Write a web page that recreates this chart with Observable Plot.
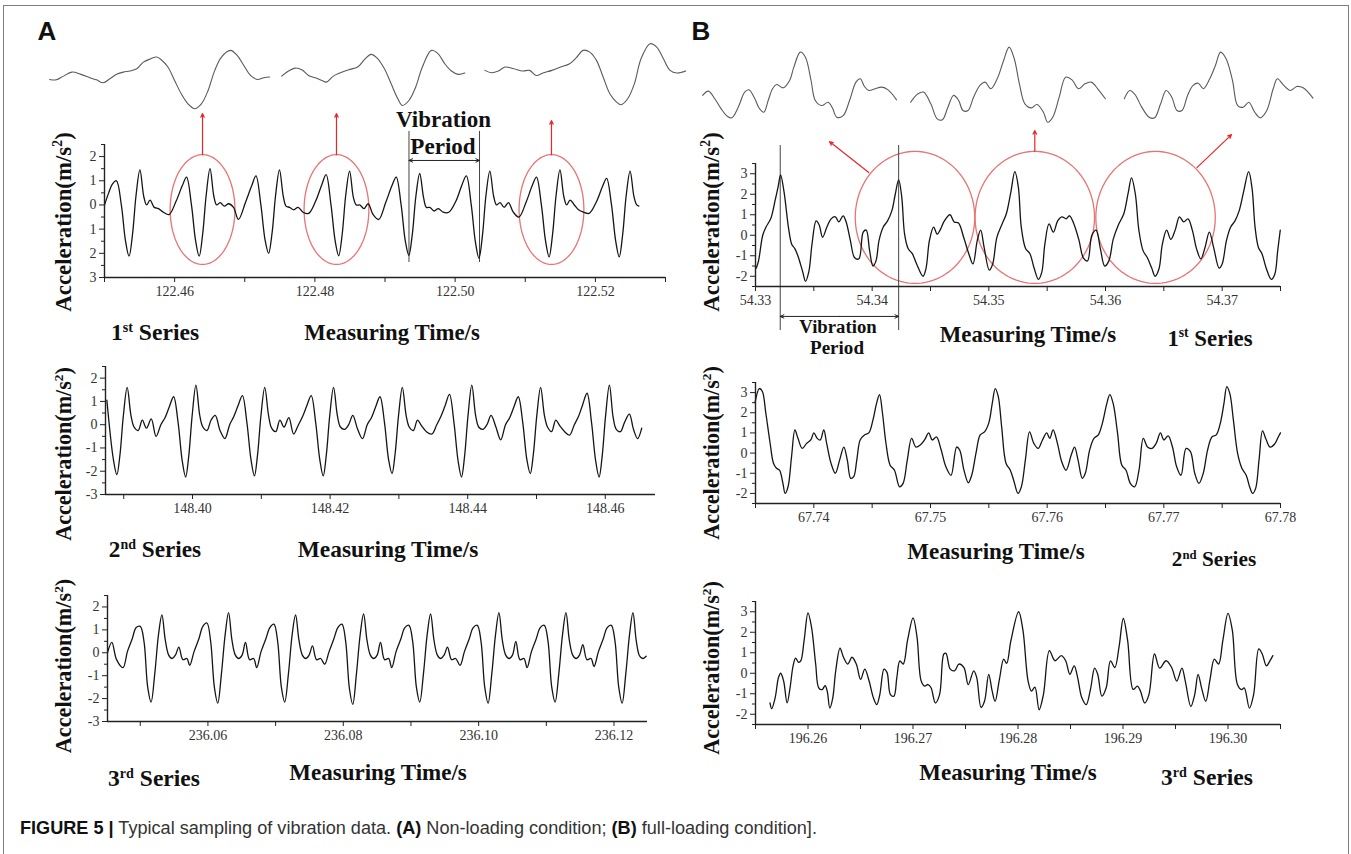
<!DOCTYPE html>
<html><head><meta charset="utf-8">
<script src="https://cdn.jsdelivr.net/npm/d3@7"></script>
<script src="https://cdn.jsdelivr.net/npm/@observablehq/plot@0.6"></script>
<style>
body{margin:0;background:#fff;}
#fig{position:relative;width:1351px;height:854px;overflow:hidden;background:#fff;}
#fig svg g[aria-label*="tick label"]{font-size:14px;font-family:"Liberation Serif","Times New Roman",serif;}
.lbl{position:absolute;white-space:nowrap;line-height:1;color:#111;}
.serif{font-family:"Liberation Serif","Times New Roman",serif;font-weight:bold;}
.sans{font-family:"Liberation Sans",Arial,sans-serif;}
.bold{font-weight:bold;}
.lbl sup{font-size:0.6em;vertical-align:0.6em;line-height:0;}
</style></head><body><div id="fig"></div>
<script>
// ---------- data: [ms from origin, acceleration m/s^2] ----------
const a1Origin = 122.45;
const a1 = [[0,0],[0.6,0.5],[1.1,0.85],[1.7,1.0],[2.4,0.0],[3.0,-1.5],[3.5,-2.12],[4.0,-1.2],[4.5,0.4],[5.05,1.45],[5.6,0.35],[6.0,0.0],[6.5,0.2],[7.1,-0.1],[7.7,-0.15],[8.4,-0.3],
[9.2,-0.4],[10.2,0.15],[11.1,0.8],[11.7,1.15],[12.4,0.0],[13.0,-1.5],[13.5,-2.12],[14.0,-1.2],[14.5,0.4],[15.05,1.5],[15.6,0.35],[16.0,0.0],[16.5,0.1],[17.1,-0.05],[17.7,0.05],[18.4,-0.1],
[19.1,-0.6],[20.1,0.1],[21.0,0.8],[21.6,1.2],[22.3,0.0],[22.9,-1.45],[23.4,-2.0],[23.9,-1.15],[24.4,0.4],[24.95,1.45],[25.5,0.35],[25.9,-0.05],[26.4,-0.1],[27.0,-0.2],[27.6,-0.1],[28.3,-0.3],
[29.1,-0.35],[30.1,0.15],[31.0,0.85],[31.6,1.25],[32.3,0.0],[32.9,-1.5],[33.4,-2.1],[33.9,-1.2],[34.4,0.4],[34.95,1.4],[35.5,0.3],[35.9,0.0],[36.4,0.0],[37.0,-0.15],[37.6,0.05],[38.3,-0.4],
[39.1,-0.6],[40.1,0.1],[41.0,0.8],[41.6,1.15],[42.3,0.0],[42.9,-1.5],[43.4,-2.08],[43.9,-1.2],[44.4,0.35],[44.95,1.3],[45.5,0.3],[45.9,-0.1],[46.4,-0.1],[47.0,-0.25],[47.6,-0.15],[48.3,-0.3],
[49.1,-0.3],[50.1,0.15],[51.0,0.85],[51.6,1.2],[52.3,0.0],[52.9,-1.55],[53.4,-2.2],[53.9,-1.25],[54.4,0.4],[54.95,1.4],[55.5,0.35],[55.9,0.0],[56.4,0.1],[57.0,-0.1],[57.6,0.1],[58.3,-0.3],
[59.1,-0.5],[60.1,0.1],[61.0,0.8],[61.6,1.15],[62.3,0.0],[62.9,-1.5],[63.4,-2.15],[63.9,-1.2],[64.4,0.4],[64.95,1.45],[65.5,0.35],[65.9,0.0],[66.4,0.2],[67.0,0.0],[67.6,-0.2],[68.3,-0.3],
[69.1,-0.35],[70.1,0.1],[71.0,0.75],[71.6,1.1],[72.3,0.0],[72.9,-1.5],[73.4,-2.15],[73.9,-1.2],[74.4,0.4],[74.95,1.4],[75.5,0.35],[75.9,0.0],[76.2,-0.05]];

const a2Origin = 148.38;
const a2 = [[7.55,1.05],[8.5,-1.5],[9.0,-2.15],[9.45,-1.3],[9.95,0.4],[10.5,1.6],[11.05,0.4],[11.5,-0.1],[12.1,-0.25],[12.7,0.2],[13.3,-0.15],[14.0,0.25],
[14.7,-0.5],[15.4,0.0],[16.0,0.3],[16.6,0.75],[17.25,1.2],[17.9,0.1],[18.5,-1.55],[19.0,-2.25],[19.45,-1.35],[19.95,0.4],[20.5,1.7],[21.05,0.4],[21.5,-0.1],[22.1,-0.25],[22.7,0.2],[23.3,0.4],[24.0,-0.25],
[24.7,-0.6],[25.4,0.0],[26.0,0.35],[26.6,0.8],[27.25,1.25],[27.9,0.1],[28.5,-1.5],[29.0,-2.2],[29.45,-1.3],[29.95,0.4],[30.5,1.6],[31.05,0.4],[31.5,-0.15],[32.1,-0.3],[32.7,0.2],[33.3,-0.1],[34.0,0.3],
[34.7,-0.4],[35.4,0.0],[36.0,0.35],[36.6,0.8],[37.25,1.25],[37.9,0.1],[38.5,-1.5],[39.0,-2.2],[39.45,-1.3],[39.95,0.4],[40.5,1.6],[41.05,0.4],[41.5,-0.1],[42.1,-0.2],[42.7,0.0],[43.3,0.4],[44.0,-0.2],
[44.7,-0.6],[45.4,0.0],[46.0,0.3],[46.6,0.75],[47.25,1.2],[47.9,0.1],[48.5,-1.5],[49.0,-2.1],[49.45,-1.25],[49.95,0.4],[50.5,1.6],[51.05,0.4],[51.5,-0.1],[52.1,-0.25],[52.7,0.2],[53.3,-0.05],[54.0,-0.3],
[54.8,-0.4],[55.5,0.0],[56.1,0.35],[56.7,0.8],[57.35,1.3],[58.0,0.1],[58.6,-1.55],[59.1,-2.25],[59.55,-1.35],[60.05,0.4],[60.6,1.7],[61.15,0.4],[61.6,-0.1],[62.2,-0.2],[62.8,0.0],[63.4,0.4],[64.1,-0.1],
[64.8,-0.65],[65.5,0.0],[66.1,0.3],[66.7,0.75],[67.35,1.2],[68.0,0.1],[68.6,-1.5],[69.1,-2.1],[69.55,-1.25],[70.05,0.4],[70.6,1.6],[71.15,0.4],[71.6,-0.1],[72.2,-0.3],[72.8,0.2],[73.4,-0.05],[74.1,-0.3],
[74.8,-0.45],[75.5,0.0],[76.1,0.35],[76.7,0.85],[77.35,1.35],[78.0,0.1],[78.6,-1.55],[79.1,-2.25],[79.55,-1.35],[80.05,0.4],[80.6,1.7],[81.15,0.3],[81.6,-0.2],[82.2,-0.3],[82.8,0.1],[83.5,0.45],[84.1,-0.2],[84.7,-0.6],[85.3,-0.15]];

const a3Origin = 236.04;
const a3 = [[5.16,0.0],[5.8,0.45],[6.5,-0.3],
[7.45,-0.65],[8.1,0.05],[8.8,0.6],[9.4,1.1],[10.0,1.15],[10.55,0.5],[11.1,-1.5],[11.6,-2.15],[12.15,-0.9],[12.7,0.8],[13.2,1.65],[13.7,0.55],[14.2,-0.1],[14.7,-0.25],[15.2,-0.1],[15.7,0.25],[16.3,-0.3],[16.9,-0.25],
[17.3,-0.55],[17.95,0.05],[18.65,0.6],[19.25,1.15],[19.85,1.3],[20.4,0.5],[20.95,-1.5],[21.45,-2.2],[22.0,-0.9],[22.55,0.8],[23.05,1.75],[23.55,0.55],[24.05,-0.1],[24.55,-0.25],[25.05,-0.1],[25.55,0.45],[26.15,-0.3],[26.75,-0.25],
[27.2,-0.65],[27.85,0.05],[28.55,0.6],[29.15,1.1],[29.75,1.25],[30.3,0.5],[30.85,-1.5],[31.35,-2.15],[31.9,-0.9],[32.45,0.8],[32.95,1.65],[33.45,0.55],[33.95,-0.1],[34.45,-0.25],[34.95,-0.1],[35.45,0.3],[36.05,-0.3],[36.65,-0.25],
[37.25,-0.5],[37.9,0.05],[38.6,0.6],[39.2,1.1],[39.8,1.25],[40.35,0.5],[40.9,-1.55],[41.4,-2.25],[41.95,-0.9],[42.5,0.8],[43.0,1.7],[43.5,0.55],[44.0,-0.1],[44.5,-0.25],[45.0,-0.1],[45.5,0.45],[46.1,-0.3],[46.7,-0.25],
[47.15,-0.65],[47.8,0.05],[48.5,0.6],[49.1,1.1],[49.7,1.2],[50.25,0.5],[50.8,-1.5],[51.3,-2.15],[51.85,-0.9],[52.4,0.8],[52.9,1.7],[53.4,0.55],[53.9,-0.1],[54.4,-0.25],[54.9,-0.1],[55.4,0.25],[56.0,-0.3],[56.6,-0.25],
[57.25,-0.55],[57.9,0.05],[58.6,0.6],[59.2,1.1],[59.8,1.2],[60.35,0.5],[60.9,-1.5],[61.4,-2.2],[61.95,-0.9],[62.5,0.8],[63.0,1.75],[63.5,0.55],[64.0,-0.1],[64.5,-0.25],[65.0,-0.1],[65.5,0.5],[66.1,-0.3],[66.7,-0.25],
[67.15,-0.65],[67.8,0.05],[68.5,0.6],[69.1,1.1],[69.7,1.2],[70.25,0.5],[70.8,-1.5],[71.3,-2.15],[71.85,-0.9],[72.4,0.8],[72.9,1.75],[73.4,0.55],[73.9,-0.1],[74.4,-0.25],[74.9,-0.1],[75.4,0.35],[76.0,-0.3],[76.6,-0.25],
[77.05,-0.6],[77.7,0.05],[78.4,0.6],[79.0,1.1],[79.6,1.2],[80.15,0.5],[80.7,-1.5],[81.2,-2.2],[81.75,-0.9],[82.3,0.8],[82.8,1.75],[83.3,0.5],[83.8,-0.15],[84.3,-0.25],[84.75,-0.15]];

const b1Origin = 54.33;
const b1 = [[0.07,-1.6],[0.26,-1.25],[0.62,0.0],[0.9,0.4],[1.3,0.8],[1.7,1.75],[1.95,2.4],[2.15,2.95],[2.45,2.1],[2.82,0.4],[3.11,-0.45],[3.37,-0.65],[3.63,-1.0],[4.03,-1.75],[4.29,-2.25],[4.58,-1.75],[4.84,-0.45],[5.2,0.7],[5.46,0.5],[5.75,-0.1],[6.12,0.4],[6.48,0.8],[6.85,0.9],[7.14,0.65],[7.51,0.95],[7.77,0.65],[8.13,-0.25],[8.5,-1.1],[8.86,-1.15],[9.23,0.15],[9.49,0.25],[9.78,-0.75],[10.07,-1.5],[10.33,-1.25],[10.59,-0.25],[10.95,0.4],[11.32,0.7],[11.69,1.2],[11.98,2.0],[12.27,2.7],[12.53,1.9],[12.78,0.05],[13.08,-0.65],[13.44,-0.9],[13.81,-1.4],[14.36,-2.0],[14.62,-1.6],[14.91,-0.25],[15.27,0.4],[15.57,0.05],[15.82,0.25],[16.19,0.7],[16.67,1.0],[17.03,0.65],[17.4,0.6],[17.84,-0.1],[18.28,-0.9],[18.64,-1.4],[19.01,-0.25],[19.3,0.25],[19.6,-0.6],[20.04,-1.7],[20.33,-1.4],[20.69,-0.1],[21.14,0.55],[21.5,1.05],[21.87,2.05],[22.23,3.1],[22.53,2.35],[22.78,0.4],[23.15,-0.65],[23.52,-0.9],[23.88,-1.6],[24.25,-2.15],[24.54,-1.8],[24.8,-0.45],[25.16,0.55],[25.53,0.15],[25.9,0.7],[26.26,0.9],[26.63,0.8],[26.92,0.95],[27.29,0.55],[27.73,-0.25],[28.1,-1.1],[28.46,-1.25],[28.83,0.0],[29.19,0.25],[29.56,-0.65],[29.93,-1.5],[30.29,-1.25],[30.66,-0.2],[31.1,0.5],[31.57,1.05],[31.94,2.05],[32.23,2.8],[32.56,2.0],[32.86,0.25],[33.22,-0.75],[33.59,-1.1],[33.96,-1.6],[34.25,-2.0],[34.58,-1.65],[34.87,-0.45],[35.24,0.25],[35.6,-0.2],[35.97,0.25],[36.34,0.9],[36.7,0.65],[37.07,0.8],[37.44,0.25],[37.8,-0.65],[38.17,-1.15],[38.53,-0.6],[38.9,0.15],[39.27,-0.6],[39.74,-1.6],[40.0,-1.4],[40.37,-0.25],[40.73,0.4],[41.1,0.7],[41.46,1.2],[41.83,2.1],[42.27,3.1],[42.56,2.3],[42.82,0.4],[43.11,-0.6],[43.41,-0.9],[43.77,-1.6],[44.21,-2.15],[44.51,-1.9],[44.76,-0.75],[44.98,0.25]];

const b2Origin = 67.73;
const b2 = [[4.96,2.5],[5.33,3.2],[5.59,3.05],[5.88,2.0],[6.25,0.5],[6.54,-0.5],[6.8,-0.75],[7.06,-0.85],[7.35,-1.5],[7.54,-2.0],[7.79,-1.67],[8.09,-0.18],[8.38,1.15],[8.64,0.73],[9.01,0.23],[9.38,0.48],[9.74,0.65],[10.0,1.0],[10.29,0.73],[10.55,0.65],[10.85,1.15],[11.1,0.48],[11.47,-0.5],[11.84,-1.0],[12.21,-0.35],[12.57,0.3],[12.87,-0.35],[13.16,-1.25],[13.42,-1.17],[13.68,-0.35],[13.97,0.65],[14.34,0.9],[14.71,1.0],[15.07,1.65],[15.37,2.45],[15.63,2.9],[15.88,2.0],[16.18,0.5],[16.54,-0.6],[16.91,-0.85],[17.35,-1.67],[17.65,-1.5],[18.01,-0.35],[18.38,0.73],[18.75,0.3],[19.12,0.4],[19.49,0.65],[19.85,1.0],[20.15,0.65],[20.51,0.8],[20.88,0.23],[21.32,-0.68],[21.76,-1.1],[22.24,0.3],[22.5,0.15],[22.87,-0.85],[23.24,-1.47],[23.53,-1.1],[23.9,0.0],[24.26,0.9],[24.63,1.05],[25.0,1.5],[25.29,2.45],[25.55,3.2],[25.81,2.8],[26.1,1.3],[26.47,-0.5],[26.84,-0.85],[27.13,-1.35],[27.5,-2.0],[27.79,-1.67],[28.13,-0.35],[28.49,1.05],[28.86,0.48],[29.23,0.23],[29.6,0.65],[29.96,1.0],[30.22,0.73],[30.51,1.15],[30.88,0.48],[31.25,-0.43],[31.62,-0.85],[32.06,-0.1],[32.35,0.3],[32.65,-0.35],[33.01,-1.25],[33.27,-1.0],[33.64,0.15],[34.01,0.73],[34.38,0.9],[34.74,1.5],[35.11,2.45],[35.37,2.9],[35.66,2.45],[36.03,1.0],[36.4,-0.6],[36.76,-0.85],[37.13,-1.5],[37.5,-1.67],[37.87,-0.85],[38.24,0.73],[38.6,0.3],[38.97,0.23],[39.34,0.48],[39.71,1.0],[40.0,0.65],[40.37,0.85],[40.74,0.3],[41.1,-0.68],[41.47,-1.1],[41.91,0.23],[42.28,0.07],[42.65,-1.0],[43.01,-1.5],[43.38,-1.0],[43.75,0.15],[44.12,0.8],[44.49,0.9],[44.85,1.5],[45.15,2.45],[45.4,3.3],[45.66,2.95],[45.96,1.65],[46.32,0.0],[46.69,-0.75],[47.06,-1.1],[47.35,-1.67],[47.61,-2.0],[47.87,-1.75],[48.16,-0.35],[48.46,1.1],[48.75,0.7],[49.1,0.3],[49.5,0.45],[49.85,0.85],[50.0,1.0]];

const b3Origin = 196.25;
const b3 = [[6.38,-1.45],[6.54,-1.73],[6.87,-1.2],[7.19,-0.21],[7.4,0.0],[7.68,-0.38],[8.01,-1.45],[8.29,-0.71],[8.58,0.36],[8.82,0.74],[9.1,0.53],[9.31,0.6],[9.63,1.6],[10.0,2.95],[10.33,2.26],[10.73,0.45],[11.02,-0.71],[11.34,-0.8],[11.63,-0.6],[11.83,-0.87],[12.08,-1.7],[12.36,-1.2],[12.64,0.12],[13.05,1.22],[13.38,0.78],[13.78,0.45],[14.19,0.78],[14.6,0.45],[15.01,-0.3],[15.41,0.2],[15.82,-0.38],[16.23,-1.2],[16.55,-1.53],[16.84,-1.04],[17.24,0.2],[17.53,0.03],[17.85,-1.04],[18.18,-1.12],[18.46,-0.21],[18.75,0.6],[19.07,0.45],[19.48,1.6],[20.01,2.7],[20.38,1.77],[20.78,-0.38],[21.11,-0.63],[21.43,-0.55],[21.72,-0.71],[22.13,-1.45],[22.53,-1.04],[22.94,0.94],[23.14,0.97],[23.55,0.2],[23.96,0.12],[24.37,0.45],[24.85,0.28],[25.26,-0.55],[25.79,0.12],[26.07,-0.21],[26.48,-1.67],[26.81,-1.37],[27.21,-0.05],[27.54,-0.87],[27.82,-1.37],[28.23,-0.3],[28.64,0.69],[28.92,0.48],[29.33,1.6],[30.06,3.0],[30.47,2.1],[30.96,-0.38],[31.28,-0.87],[31.61,-0.68],[32.01,-1.78],[32.42,-1.04],[32.99,1.1],[33.52,0.61],[34.13,0.86],[34.54,0.61],[34.94,-0.05],[35.35,0.36],[35.68,-0.21],[36.08,-1.2],[36.49,-1.53],[36.9,-0.79],[37.3,0.25],[37.59,-0.05],[37.99,-1.12],[38.4,-0.71],[38.81,0.6],[39.22,0.28],[39.62,1.27],[40.03,2.67],[40.44,1.6],[40.97,-0.79],[41.37,-0.63],[41.66,-0.87],[42.07,-1.45],[42.47,-1.04],[43.0,0.94],[43.49,0.25],[44.1,0.61],[44.63,0.28],[45.12,-0.38],[45.61,0.25],[45.93,-0.38],[46.46,-1.62],[46.83,-1.04],[47.15,-0.05],[47.48,-0.71],[47.88,-1.37],[48.29,-0.3],[48.7,0.69],[49.1,0.45],[49.51,1.6],[50.0,2.92],[50.41,2.1],[50.9,-0.55],[51.3,-0.8],[51.55,-0.71],[52.04,-1.7],[52.44,-1.04],[52.93,1.19],[53.26,0.94],[53.66,0.36],[53.99,0.6],[54.27,0.86]];

// magnified insets (relative units: position, amplitude)
const aIn1 = [[3.67,-0.05],[4.17,-0.08],[4.67,0.18],[5.33,0.5],[6.0,0.33],[6.67,0.08],[7.17,-0.08],[7.67,-0.3],[8.17,0.0],[8.67,0.33],[9.17,0.5],[9.67,0.58],[10.17,0.75],[10.67,1.25],[11.17,1.48],[11.67,1.63],[12.0,1.43],[12.5,0.88],[13.0,-0.13],[13.5,-1.13],[14.0,-1.88],[14.5,-2.25],[15.0,-1.88],[15.5,-0.88],[16.0,0.63],[16.5,1.63],[17.17,2.13],[17.67,1.75],[18.17,1.0],[18.67,0.25],[19.17,-0.05],[19.67,0.08],[20.1,0.13]];
const aIn2 = [[21.0,0.2],[21.5,0.58],[22.0,0.8],[22.5,0.68],[23.0,0.25],[23.5,0.08],[24.0,-0.13],[24.33,-0.25],[24.83,0.18],[25.33,0.43],[26.0,0.68],[26.67,0.88],[27.17,1.43],[27.67,1.83],[28.17,1.5],[28.67,0.75],[29.17,-0.38],[29.67,-1.5],[30.0,-2.0],[30.5,-1.63],[31.0,-0.63],[31.5,0.88],[32.17,2.13],[32.67,1.88],[33.17,1.13],[33.67,0.58],[34.17,0.33],[34.67,0.43]];
const aIn3 = [[36.17,0.63],[36.67,0.45],[37.17,0.58],[37.67,0.88],[38.33,0.75],[39.0,0.58],[39.5,0.63],[40.0,0.25],[40.5,0.43],[41.17,0.63],[41.83,0.88],[42.5,1.13],[43.0,1.58],[43.5,2.13],[44.0,2.0],[44.5,1.38],[45.0,0.13],[45.5,-1.13],[46.0,-1.75],[46.33,-1.95],[46.83,-1.5],[47.33,-0.38],[47.83,1.5],[48.5,2.63],[49.0,2.38],[49.5,1.5],[50.0,0.63],[50.5,0.43],[51.17,0.58]];
const bIn1 = [[1.73,0.38],[2.17,0.7],[2.67,0.13],[3.17,-0.63],[3.67,-1.2],[4.0,-1.3],[4.5,-0.5],[5.0,0.63],[5.33,0.8],[5.73,0.25],[6.17,-0.63],[6.5,-0.88],[6.83,0.0],[7.17,0.88],[7.5,1.2],[8.0,0.95],[8.5,1.5],[8.83,2.5],[9.33,3.63],[9.73,3.25],[10.17,1.5],[10.5,0.0],[11.0,-0.38],[11.5,-0.13],[11.83,-0.55],[12.17,-1.25],[12.67,-1.13],[13.17,0.0],[13.67,1.38],[14.0,1.63],[14.33,1.05],[14.67,0.75],[15.17,0.88],[15.67,1.0],[16.17,0.8],[16.83,0.05]];
const bIn2 = [[17.93,-0.13],[18.5,0.5],[18.93,0.63],[19.5,-0.25],[20.0,-1.38],[20.4,-1.45],[20.83,-0.5],[21.27,0.38],[21.67,0.0],[22.0,-0.75],[22.4,-0.75],[22.83,0.25],[23.33,1.13],[23.73,1.38],[24.17,0.88],[24.67,1.63],[25.17,3.0],[25.6,4.0],[26.0,3.13],[26.4,1.25],[26.83,-0.25],[27.33,-0.55],[27.77,-0.3],[28.27,-0.88],[28.6,-1.63],[29.0,-1.25],[29.5,0.25],[30.0,1.75],[30.5,1.55],[31.0,0.88],[31.5,1.25],[32.0,1.38],[32.5,0.88],[33.1,0.13]];
const bIn3 = [[34.57,0.13],[35.0,0.75],[35.4,0.45],[35.93,-0.5],[36.5,-1.25],[36.93,-1.3],[37.4,-0.25],[37.83,0.75],[38.27,0.25],[38.67,-0.75],[39.07,-0.75],[39.5,0.38],[39.93,1.13],[40.33,1.3],[40.73,0.88],[41.23,1.63],[41.67,2.63],[42.07,3.63],[42.5,3.13],[43.0,1.5],[43.4,-0.38],[43.83,-0.5],[44.27,-0.13],[44.73,-0.88],[45.17,-1.3],[45.67,-0.75],[46.17,0.88],[46.5,1.63],[47.0,1.13],[47.5,0.75],[48.0,1.05],[48.5,0.95],[49.27,0.18]];

// annotations
const a1Circles = [{t:122.46398,v:-0.19,rt:0.00462,rv:2.27},{t:122.48308,v:-0.19,rt:0.00462,rv:2.27},{t:122.51374,v:-0.19,rt:0.00462,rv:2.27}];
const a1Arrows = [{t1:122.46398,v1:2.08,t2:122.46398,v2:3.78},{t1:122.48308,v1:2.08,t2:122.48308,v2:3.78},{t1:122.51374,v1:2.08,t2:122.51374,v2:3.49}];
const a1Period = {t1:122.49342,t2:122.50348,v1:-2.38,v2:3.04,arrowV:1.84};
const b1Circles = [{t:54.34367,v:0.87,rt:0.00512,rv:3.22},{t:54.35394,v:0.87,rt:0.00512,rv:3.22},{t:54.36429,v:0.87,rt:0.00512,rv:3.22}];
const b1Arrows = [{t1:54.33971,v1:3.06,t2:54.33634,v2:4.57},{t1:54.35394,v1:4.09,t2:54.35394,v2:5.11},{t1:54.36784,v1:3.30,t2:54.3708,v2:4.91}];
const b1Period = {t1:54.33212,t2:54.34227,v1:-4.65,v2:4.38,arrowV:-3.96};

// ticks
const aYTicks=[-3,-2,-1,0,1,2], aYMinor=[-2.5,-1.5,-0.5,0.5,1.5,2.5];
const bYTicks=[-2,-1,0,1,2,3], bYMinor=[-2.5,-1.5,-0.5,0.5,1.5,2.5,3.5];

// ---------- drawing ----------
const fig = document.getElementById("fig");
const frame = document.createElement("div");
Object.assign(frame.style,{position:"absolute",left:"3px",top:"5px",width:"1346px",height:"870px",borderTop:"1.5px solid #7d7d7d",borderLeft:"1.5px solid #7d7d7d",borderRight:"1.5px solid #7d7d7d",boxSizing:"border-box"});
fig.appendChild(frame);

function ellipse(c){const pts=[];for(let i=0;i<90;i++){const a=i/90*2*Math.PI;pts.push({t:c.t+c.rt*Math.cos(a),v:c.v+c.rv*Math.sin(a)});}return pts;}

function annot(circles, arrows, per){
  const m = [];
  circles.forEach(c=>m.push(Plot.line(ellipse(c),{x:"t",y:"v",curve:"linear-closed",stroke:"#e77474",strokeWidth:1.3})));
  m.push(Plot.arrow(arrows,{x1:"t1",y1:"v1",x2:"t2",y2:"v2",stroke:"#e8262a",strokeWidth:1.2,headLength:5,headAngle:50}));
  m.push(Plot.ruleX([per.t1,per.t2],{y1:per.v1,y2:per.v2,stroke:"#444",strokeWidth:1}));
  const mid=(per.t1+per.t2)/2;
  m.push(Plot.arrow([{a:mid,b:per.t1},{a:mid,b:per.t2}],{x1:"a",x2:"b",y1:per.arrowV,y2:per.arrowV,stroke:"#222",strokeWidth:1,headLength:6,headAngle:50}));
  return m;
}

function panel(p){
  const mL=40,mR=34,mT=8,mB=36;
  const W=p.right-p.left,H=p.bottom-p.top;
  const data=p.series.map(([ms,v])=>({t:p.origin+ms/1000,v}));
  const svg=Plot.plot({
    width:W+mL+mR,height:H+mT+mB,marginLeft:mL,marginRight:mR,marginTop:mT,marginBottom:mB,
    x:{domain:p.x,label:null},y:{domain:p.y,label:null},
    style:{overflow:"visible",background:"transparent",fontFamily:"'Liberation Serif','Times New Roman',serif",fontSize:"14px",color:"#333"},
    marks:[
      ...(p.extra||[]),
      Plot.line(data,{x:"t",y:"v",curve:"catmull-rom",stroke:"#151515",strokeWidth:1.3}),
      Plot.ruleY([p.y[0]],{stroke:"#222",strokeWidth:1.4}),
      Plot.ruleX([p.x[0]],{stroke:"#222",strokeWidth:1.4}),
      Plot.axisX(p.xMinor,{tickSize:5,tickFormat:()=>"",label:null,stroke:"#222"}),
      Plot.axisX(p.xTicks,{tickSize:5,tickPadding:4,tickFormat:d3.format(".2f"),fontSize:14,label:null,stroke:"#222"}),
      Plot.axisY(p.yMinor,{tickSize:3,tickFormat:()=>"",label:null,stroke:"#222"}),
      Plot.axisY(p.yTicks,{tickSize:5,tickPadding:3,tickFormat:p.yFormat,fontSize:14,label:null,stroke:"#222"})
    ]});
  svg.style.position="absolute";svg.style.left=(p.left-mL)+"px";svg.style.top=(p.top-mT)+"px";
  fig.appendChild(svg);
}

function inset(segs,left,top,w,h,yDom){
  const data=segs.flatMap((s,i)=>s.map(([u,v])=>({u,v,seg:i})));
  const svg=Plot.plot({width:w,height:h,margin:0,x:{domain:[0,52.27],axis:null},y:{domain:yDom,axis:null},
    style:{overflow:"visible",background:"transparent"},
    marks:[Plot.line(data,{x:"u",y:"v",z:"seg",curve:"catmull-rom",stroke:"#5a5a5a",strokeWidth:1.1})]});
  svg.style.position="absolute";svg.style.left=left+"px";svg.style.top=top+"px";
  fig.appendChild(svg);
}

const fmtAbs=d=>String(Math.abs(d)), fmt=d=>String(d);

inset([aIn1,aIn2,aIn3],0,40,700,80,[-3.13,2.87]);
inset([bIn1,bIn2,bIn3],680,40,671,90,[-2.25,4.5]);

panel({series:a1,origin:a1Origin,left:104,right:665,top:144,bottom:277,x:[122.45,122.53],y:[-3,2.5],
  xTicks:[122.46,122.48,122.50,122.52],xMinor:[122.45,122.47,122.49,122.51,122.53],yTicks:aYTicks,yMinor:aYMinor,yFormat:fmtAbs,
  extra:annot(a1Circles,a1Arrows,a1Period)});
panel({series:a2,origin:a2Origin,left:105,right:655,top:366,bottom:494,x:[148.38735,148.4673],y:[-3,2.5],
  xTicks:[148.40,148.42,148.44,148.46],xMinor:[148.39,148.41,148.43,148.45],yTicks:aYTicks,yMinor:aYMinor,yFormat:fmt});
panel({series:a3,origin:a3Origin,left:107,right:647,top:595,bottom:721,x:[236.04516,236.12495],y:[-3,2.5],
  xTicks:[236.06,236.08,236.10,236.12],xMinor:[236.05,236.07,236.09,236.11],yTicks:aYTicks,yMinor:aYMinor,yFormat:fmt});
panel({series:b1,origin:b1Origin,left:755,right:1280,top:163,bottom:286,x:[54.33,54.375],y:[-2.5,3.5],
  xTicks:[54.33,54.34,54.35,54.36,54.37],xMinor:[54.335,54.345,54.355,54.365,54.375],yTicks:bYTicks,yMinor:bYMinor,yFormat:fmt,
  extra:annot(b1Circles,b1Arrows,b1Period)});
panel({series:b2,origin:b2Origin,left:755,right:1280,top:382,bottom:503,x:[67.735,67.78],y:[-2.5,3.5],
  xTicks:[67.74,67.75,67.76,67.77,67.78],xMinor:[67.735,67.745,67.755,67.765,67.775],yTicks:bYTicks,yMinor:bYMinor,yFormat:fmt});
panel({series:b3,origin:b3Origin,left:755,right:1280,top:601,bottom:724,x:[196.255,196.305],y:[-2.5,3.5],
  xTicks:[196.26,196.27,196.28,196.29,196.30],xMinor:[196.255,196.265,196.275,196.285,196.295,196.305],yTicks:bYTicks,yMinor:bYMinor,yFormat:fmt});

// ---------- text ----------
function label(html,o){
  const el=document.createElement("div");el.className="lbl "+(o.cls||"serif");el.innerHTML=html;
  el.style.fontSize=o.fs+"px";if(o.color)el.style.color=o.color;fig.appendChild(el);
  const w0=el.offsetWidth;el.style.fontSize=(o.fs*o.w/w0)+"px";
  el.style.left=o.x+"px";el.style.top=o.y+"px";
  el.style.transform=o.anchor==="start"?"translate(0,-50%)":("translate(-50%,-50%)"+(o.rot?" rotate(-90deg)":""));
}
const acc="Acceleration(m/s<sup>2</sup>)", mt="Measuring Time/s";
label("A",{cls:"sans bold",x:47,y:31,w:19,fs:26,color:"#111"});
label("B",{cls:"sans bold",x:701,y:31,w:19,fs:26,color:"#111"});
label(acc,{x:64,y:222,w:180,fs:23,rot:true});
label(acc,{x:64,y:454,w:174,fs:23,rot:true});
label(acc,{x:64,y:666,w:175,fs:23,rot:true});
label(acc,{x:712,y:222,w:180,fs:23,rot:true});
label(acc,{x:712,y:453,w:174,fs:23,rot:true});
label(acc,{x:712,y:668,w:174,fs:23,rot:true});
label("1<sup>st</sup> Series",{x:155,y:333,w:88,fs:22});
label(mt,{x:392,y:333,w:176,fs:22});
label("Vibration",{x:443.5,y:120,w:95,fs:22});
label("Period",{x:443,y:147,w:65,fs:22});
label("2<sup>nd</sup> Series",{x:155,y:550,w:92,fs:22});
label(mt,{x:388,y:550,w:181,fs:22});
label("3<sup>rd</sup> Series",{x:154,y:779,w:92,fs:22});
label(mt,{x:378,y:773,w:178,fs:22});
label("Vibration",{x:838,y:327,w:77,fs:18});
label("Period",{x:837,y:348,w:54,fs:18});
label(mt,{x:1028,y:335,w:177,fs:22});
label("1<sup>st</sup> Series",{x:1210,y:339,w:85,fs:22});
label(mt,{x:996,y:552,w:178,fs:22});
label("2<sup>nd</sup> Series",{x:1214,y:560,w:84,fs:22});
label(mt,{x:1008,y:773,w:178,fs:22});
label("3<sup>rd</sup> Series",{x:1207,y:778,w:92,fs:22});
label('<b style="color:#111">FIGURE 5 |</b> Typical sampling of vibration data. <b style="color:#111">(A)</b> Non-loading condition; <b style="color:#111">(B)</b> full-loading condition].',
  {cls:"sans",x:20,y:828,w:797,fs:15.5,anchor:"start",color:"#333"});
</script></body></html>
